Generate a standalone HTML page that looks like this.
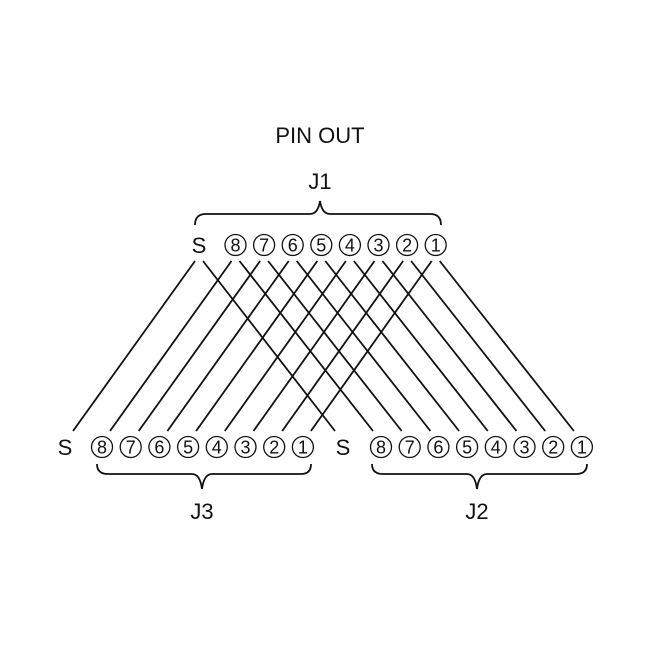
<!DOCTYPE html>
<html><head><meta charset="utf-8"><style>
html,body{margin:0;padding:0;background:#fff;}
svg{display:block}
text{font-family:"Liberation Sans",Arial,sans-serif;fill:#111}
</style></head><body>
<svg width="650" height="650" viewBox="0 0 650 650" xmlns="http://www.w3.org/2000/svg">
<g font-size="22" text-anchor="middle">
<text x="320" y="143">PIN OUT</text>
<text x="320" y="189">J1</text>
<text x="202" y="519">J3</text>
<text x="477" y="519">J2</text>
</g>
<g fill="none" stroke="#111" stroke-width="1.8">
<path d="M195,225 Q195,214 206,214 L310,214 Q318,214 320,201 Q322,214 330,214 L430,214 Q441,214 441,225"/>
<path d="M97,464 Q97,474 108,474 L192,474 Q200,474 202,489 Q204,474 212,474 L301,474 Q311,474 311,464"/>
<path d="M372,464 Q372,474 383,474 L467,474 Q475,474 477,489 Q479,474 487,474 L576,474 Q587,474 587,464"/>
</g>
<g id="lines" stroke="#111" stroke-width="1.8"></g>
<g id="top"></g><g id="bl"></g><g id="br"></g>
</svg>
<script>
var ns="http://www.w3.org/2000/svg";
function el(p,t,a,txt){var e=document.createElementNS(ns,t);for(var k in a)e.setAttribute(k,a[k]);if(txt!==undefined)e.textContent=txt;document.getElementById(p).appendChild(e);return e;}
function row(id,sx,x8,y,sp){
 el(id,"text",{x:sx,y:y+8,"font-size":"22","text-anchor":"middle"},"S");
 for(var i=0;i<8;i++){var x=x8+i*sp;
  el(id,"circle",{cx:x,cy:y,r:10.5,fill:"none",stroke:"#111","stroke-width":"1.3"});
  el(id,"text",{x:x,y:y+6.5,"font-size":"18","text-anchor":"middle"},String(8-i));}
}
row("top",199,235.5,245,28.6);
row("bl",65,102,447,28.7);
row("br",343,381,447,28.7);
var tops=[199],bls=[65],brs=[343];
for(var i=0;i<8;i++){tops.push(235.5+i*28.6);bls.push(102+i*28.7);brs.push(381+i*28.7);}
for(var j=0;j<9;j++){
 el("lines","line",{x1:tops[j]-4,y1:261,x2:bls[j]+8,y2:431});
 el("lines","line",{x1:tops[j]+4,y1:261,x2:brs[j]-8,y2:431});
}
</script>
</body></html>
